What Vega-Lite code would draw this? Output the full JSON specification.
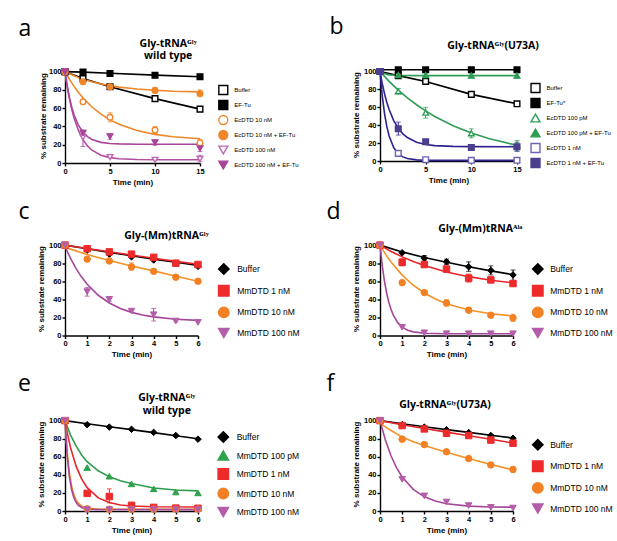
{
"$schema": "https://vega.github.io/schema/vega-lite/v6.json",
"padding": {"left": 17, "top": 15, "right": 2, "bottom": 2},
"columns": 2,
"align": "each",
"spacing": {"row": 13.5, "column": 26},
"resolve": {"scale": {"color": "independent", "shape": "independent", "stroke": "independent", "fill": "independent"}, "legend": {"color": "independent", "shape": "independent", "stroke": "independent", "fill": "independent"}},
"datasets": {
"pts": [
{"p":"a","s":"Buffer","t":0,"y":100},{"p":"a","s":"Buffer","t":2,"y":92.5},{"p":"a","s":"Buffer","t":5,"y":83.5},{"p":"a","s":"Buffer","t":10,"y":70.5},{"p":"a","s":"Buffer","t":15,"y":59},
{"p":"a","s":"EF-Tu","t":0,"y":100},{"p":"a","s":"EF-Tu","t":2,"y":99.5},{"p":"a","s":"EF-Tu","t":5,"y":98},{"p":"a","s":"EF-Tu","t":10,"y":96},{"p":"a","s":"EF-Tu","t":15,"y":94.5},
{"p":"a","s":"EcDTD 10 nM","t":0,"y":100},{"p":"a","s":"EcDTD 10 nM","t":2,"y":67},{"p":"a","s":"EcDTD 10 nM","t":5,"y":50},{"p":"a","s":"EcDTD 10 nM","t":10,"y":36},{"p":"a","s":"EcDTD 10 nM","t":15,"y":22},
{"p":"a","s":"EcDTD 10 nM + EF-Tu","t":0,"y":100},{"p":"a","s":"EcDTD 10 nM + EF-Tu","t":2,"y":89},{"p":"a","s":"EcDTD 10 nM + EF-Tu","t":5,"y":83.5},{"p":"a","s":"EcDTD 10 nM + EF-Tu","t":10,"y":79.5},{"p":"a","s":"EcDTD 10 nM + EF-Tu","t":15,"y":76},
{"p":"a","s":"EcDTD 100 nM","t":0,"y":100},{"p":"a","s":"EcDTD 100 nM","t":2,"y":28},{"p":"a","s":"EcDTD 100 nM","t":5,"y":6.5},{"p":"a","s":"EcDTD 100 nM","t":10,"y":3.5},{"p":"a","s":"EcDTD 100 nM","t":15,"y":4.5},
{"p":"a","s":"EcDTD 100 nM + EF-Tu","t":0,"y":100},{"p":"a","s":"EcDTD 100 nM + EF-Tu","t":2,"y":33},{"p":"a","s":"EcDTD 100 nM + EF-Tu","t":5,"y":29},{"p":"a","s":"EcDTD 100 nM + EF-Tu","t":10,"y":22.5},{"p":"a","s":"EcDTD 100 nM + EF-Tu","t":15,"y":16},
{"p":"b","s":"Buffer","t":0,"y":100},{"p":"b","s":"Buffer","t":2,"y":95.5},{"p":"b","s":"Buffer","t":5,"y":89},{"p":"b","s":"Buffer","t":10,"y":74.5},{"p":"b","s":"Buffer","t":15,"y":64},
{"p":"b","s":"EF-Tu*","t":0,"y":100},{"p":"b","s":"EF-Tu*","t":2,"y":102},{"p":"b","s":"EF-Tu*","t":5,"y":102},{"p":"b","s":"EF-Tu*","t":10,"y":102},{"p":"b","s":"EF-Tu*","t":15,"y":102},
{"p":"b","s":"EcDTD 100 pM","t":0,"y":100},{"p":"b","s":"EcDTD 100 pM","t":2,"y":78},{"p":"b","s":"EcDTD 100 pM","t":5,"y":54},{"p":"b","s":"EcDTD 100 pM","t":10,"y":31},{"p":"b","s":"EcDTD 100 pM","t":15,"y":17.5},
{"p":"b","s":"EcDTD 100 pM + EF-Tu","t":0,"y":100},{"p":"b","s":"EcDTD 100 pM + EF-Tu","t":2,"y":96},{"p":"b","s":"EcDTD 100 pM + EF-Tu","t":5,"y":96},{"p":"b","s":"EcDTD 100 pM + EF-Tu","t":10,"y":95.5},{"p":"b","s":"EcDTD 100 pM + EF-Tu","t":15,"y":95.5},
{"p":"b","s":"EcDTD 1 nM","t":0,"y":100},{"p":"b","s":"EcDTD 1 nM","t":2,"y":8.5},{"p":"b","s":"EcDTD 1 nM","t":5,"y":1.5},{"p":"b","s":"EcDTD 1 nM","t":10,"y":0.8},{"p":"b","s":"EcDTD 1 nM","t":15,"y":0.8},
{"p":"b","s":"EcDTD 1 nM + EF-Tu","t":0,"y":100},{"p":"b","s":"EcDTD 1 nM + EF-Tu","t":2,"y":36},{"p":"b","s":"EcDTD 1 nM + EF-Tu","t":5,"y":21.5},{"p":"b","s":"EcDTD 1 nM + EF-Tu","t":10,"y":15},{"p":"b","s":"EcDTD 1 nM + EF-Tu","t":15,"y":16},
{"p":"c","s":"Buffer","t":0,"y":100},{"p":"c","s":"Buffer","t":1,"y":94.5},{"p":"c","s":"Buffer","t":2,"y":90},{"p":"c","s":"Buffer","t":3,"y":87},{"p":"c","s":"Buffer","t":4,"y":83.5},{"p":"c","s":"Buffer","t":5,"y":80},{"p":"c","s":"Buffer","t":6,"y":76.5},
{"p":"c","s":"MmDTD 1 nM","t":0,"y":100},{"p":"c","s":"MmDTD 1 nM","t":1,"y":96},{"p":"c","s":"MmDTD 1 nM","t":2,"y":92.5},{"p":"c","s":"MmDTD 1 nM","t":3,"y":90},{"p":"c","s":"MmDTD 1 nM","t":4,"y":86.5},{"p":"c","s":"MmDTD 1 nM","t":5,"y":80},{"p":"c","s":"MmDTD 1 nM","t":6,"y":78.5},
{"p":"c","s":"MmDTD 10 nM","t":0,"y":100},{"p":"c","s":"MmDTD 10 nM","t":1,"y":84.5},{"p":"c","s":"MmDTD 10 nM","t":2,"y":82.5},{"p":"c","s":"MmDTD 10 nM","t":3,"y":76},{"p":"c","s":"MmDTD 10 nM","t":4,"y":71},{"p":"c","s":"MmDTD 10 nM","t":5,"y":64.5},{"p":"c","s":"MmDTD 10 nM","t":6,"y":60},
{"p":"c","s":"MmDTD 100 nM","t":0,"y":100},{"p":"c","s":"MmDTD 100 nM","t":1,"y":48.5},{"p":"c","s":"MmDTD 100 nM","t":2,"y":40},{"p":"c","s":"MmDTD 100 nM","t":3,"y":27},{"p":"c","s":"MmDTD 100 nM","t":4,"y":23},{"p":"c","s":"MmDTD 100 nM","t":5,"y":16},{"p":"c","s":"MmDTD 100 nM","t":6,"y":14.5},
{"p":"d","s":"Buffer","t":0,"y":100},{"p":"d","s":"Buffer","t":1,"y":91.5},{"p":"d","s":"Buffer","t":2,"y":85.5},{"p":"d","s":"Buffer","t":3,"y":81.5},{"p":"d","s":"Buffer","t":4,"y":76},{"p":"d","s":"Buffer","t":5,"y":72},{"p":"d","s":"Buffer","t":6,"y":67},
{"p":"d","s":"MmDTD 1 nM","t":0,"y":100},{"p":"d","s":"MmDTD 1 nM","t":1,"y":81},{"p":"d","s":"MmDTD 1 nM","t":2,"y":78.5},{"p":"d","s":"MmDTD 1 nM","t":3,"y":73.5},{"p":"d","s":"MmDTD 1 nM","t":4,"y":63.5},{"p":"d","s":"MmDTD 1 nM","t":5,"y":61.5},{"p":"d","s":"MmDTD 1 nM","t":6,"y":57.5},
{"p":"d","s":"MmDTD 10 nM","t":0,"y":100},{"p":"d","s":"MmDTD 10 nM","t":1,"y":58.5},{"p":"d","s":"MmDTD 10 nM","t":2,"y":47.5},{"p":"d","s":"MmDTD 10 nM","t":3,"y":36},{"p":"d","s":"MmDTD 10 nM","t":4,"y":28},{"p":"d","s":"MmDTD 10 nM","t":5,"y":22.5},{"p":"d","s":"MmDTD 10 nM","t":6,"y":19.5},
{"p":"d","s":"MmDTD 100 nM","t":0,"y":100},{"p":"d","s":"MmDTD 100 nM","t":1,"y":9},{"p":"d","s":"MmDTD 100 nM","t":2,"y":3},{"p":"d","s":"MmDTD 100 nM","t":3,"y":2},{"p":"d","s":"MmDTD 100 nM","t":4,"y":2},{"p":"d","s":"MmDTD 100 nM","t":5,"y":2},{"p":"d","s":"MmDTD 100 nM","t":6,"y":2},
{"p":"e","s":"Buffer","t":0,"y":100},{"p":"e","s":"Buffer","t":1,"y":95.5},{"p":"e","s":"Buffer","t":2,"y":92.8},{"p":"e","s":"Buffer","t":3,"y":90.4},{"p":"e","s":"Buffer","t":4,"y":87},{"p":"e","s":"Buffer","t":5,"y":83.5},{"p":"e","s":"Buffer","t":6,"y":79.5},
{"p":"e","s":"MmDTD 100 pM","t":0,"y":100},{"p":"e","s":"MmDTD 100 pM","t":1,"y":48},{"p":"e","s":"MmDTD 100 pM","t":2,"y":38.5},{"p":"e","s":"MmDTD 100 pM","t":3,"y":30},{"p":"e","s":"MmDTD 100 pM","t":4,"y":24.5},{"p":"e","s":"MmDTD 100 pM","t":5,"y":21},{"p":"e","s":"MmDTD 100 pM","t":6,"y":20},
{"p":"e","s":"MmDTD 1 nM","t":0,"y":100},{"p":"e","s":"MmDTD 1 nM","t":1,"y":19.5},{"p":"e","s":"MmDTD 1 nM","t":2,"y":16},{"p":"e","s":"MmDTD 1 nM","t":3,"y":6.3},{"p":"e","s":"MmDTD 1 nM","t":4,"y":4},{"p":"e","s":"MmDTD 1 nM","t":5,"y":3.2},{"p":"e","s":"MmDTD 1 nM","t":6,"y":3},
{"p":"e","s":"MmDTD 10 nM","t":0,"y":100},{"p":"e","s":"MmDTD 10 nM","t":1,"y":2.5},{"p":"e","s":"MmDTD 10 nM","t":2,"y":2},{"p":"e","s":"MmDTD 10 nM","t":3,"y":2},{"p":"e","s":"MmDTD 10 nM","t":4,"y":2},{"p":"e","s":"MmDTD 10 nM","t":5,"y":2},{"p":"e","s":"MmDTD 10 nM","t":6,"y":2},
{"p":"e","s":"MmDTD 100 nM","t":0,"y":100},{"p":"e","s":"MmDTD 100 nM","t":1,"y":1.5},{"p":"e","s":"MmDTD 100 nM","t":2,"y":1.5},{"p":"e","s":"MmDTD 100 nM","t":3,"y":1.5},{"p":"e","s":"MmDTD 100 nM","t":4,"y":1.5},{"p":"e","s":"MmDTD 100 nM","t":5,"y":1.5},{"p":"e","s":"MmDTD 100 nM","t":6,"y":1.5},
{"p":"f","s":"Buffer","t":0,"y":100},{"p":"f","s":"Buffer","t":1,"y":95.5},{"p":"f","s":"Buffer","t":2,"y":92.8},{"p":"f","s":"Buffer","t":3,"y":89.8},{"p":"f","s":"Buffer","t":4,"y":86.8},{"p":"f","s":"Buffer","t":5,"y":83.5},{"p":"f","s":"Buffer","t":6,"y":80.5},
{"p":"f","s":"MmDTD 1 nM","t":0,"y":100},{"p":"f","s":"MmDTD 1 nM","t":1,"y":94.5},{"p":"f","s":"MmDTD 1 nM","t":2,"y":90.8},{"p":"f","s":"MmDTD 1 nM","t":3,"y":86},{"p":"f","s":"MmDTD 1 nM","t":4,"y":83.5},{"p":"f","s":"MmDTD 1 nM","t":5,"y":78.5},{"p":"f","s":"MmDTD 1 nM","t":6,"y":75},
{"p":"f","s":"MmDTD 10 nM","t":0,"y":100},{"p":"f","s":"MmDTD 10 nM","t":1,"y":79.5},{"p":"f","s":"MmDTD 10 nM","t":2,"y":73.5},{"p":"f","s":"MmDTD 10 nM","t":3,"y":65.5},{"p":"f","s":"MmDTD 10 nM","t":4,"y":58},{"p":"f","s":"MmDTD 10 nM","t":5,"y":51},{"p":"f","s":"MmDTD 10 nM","t":6,"y":46},
{"p":"f","s":"MmDTD 100 nM","t":0,"y":100},{"p":"f","s":"MmDTD 100 nM","t":1,"y":35},{"p":"f","s":"MmDTD 100 nM","t":2,"y":16.7},{"p":"f","s":"MmDTD 100 nM","t":3,"y":10},{"p":"f","s":"MmDTD 100 nM","t":4,"y":6},{"p":"f","s":"MmDTD 100 nM","t":5,"y":4},{"p":"f","s":"MmDTD 100 nM","t":6,"y":3.3}
],
"err": [
{"p":"a","s":"Buffer","t":10,"lo":68.5,"hi":72.5},
{"p":"a","s":"EcDTD 10 nM","t":5,"lo":45,"hi":55},{"p":"a","s":"EcDTD 10 nM","t":10,"lo":32,"hi":40},{"p":"a","s":"EcDTD 10 nM","t":15,"lo":19,"hi":26},
{"p":"a","s":"EcDTD 10 nM + EF-Tu","t":5,"lo":82,"hi":85},{"p":"a","s":"EcDTD 10 nM + EF-Tu","t":10,"lo":77,"hi":82.5},{"p":"a","s":"EcDTD 10 nM + EF-Tu","t":15,"lo":72.5,"hi":80},
{"p":"a","s":"EcDTD 100 nM + EF-Tu","t":2,"lo":18,"hi":36},{"p":"a","s":"EcDTD 100 nM + EF-Tu","t":5,"lo":26,"hi":32},{"p":"a","s":"EcDTD 100 nM + EF-Tu","t":10,"lo":19.5,"hi":25.5},{"p":"a","s":"EcDTD 100 nM + EF-Tu","t":15,"lo":12.5,"hi":19},
{"p":"a","s":"EcDTD 100 nM","t":15,"lo":1.5,"hi":8.5},
{"p":"b","s":"Buffer","t":10,"lo":72,"hi":77},
{"p":"b","s":"EcDTD 100 pM","t":2,"lo":75,"hi":81},{"p":"b","s":"EcDTD 100 pM","t":5,"lo":48,"hi":60},{"p":"b","s":"EcDTD 100 pM","t":10,"lo":26,"hi":36},{"p":"b","s":"EcDTD 100 pM","t":15,"lo":11,"hi":23},
{"p":"b","s":"EcDTD 100 pM + EF-Tu","t":5,"lo":93.5,"hi":98.5},{"p":"b","s":"EcDTD 100 pM + EF-Tu","t":10,"lo":93,"hi":98},{"p":"b","s":"EcDTD 100 pM + EF-Tu","t":15,"lo":92.5,"hi":98.5},
{"p":"b","s":"EcDTD 1 nM + EF-Tu","t":2,"lo":29,"hi":43.5},{"p":"b","s":"EcDTD 1 nM + EF-Tu","t":5,"lo":19,"hi":24},{"p":"b","s":"EcDTD 1 nM + EF-Tu","t":10,"lo":12,"hi":18},{"p":"b","s":"EcDTD 1 nM + EF-Tu","t":15,"lo":11,"hi":21},
{"p":"c","s":"MmDTD 100 nM","t":1,"lo":43.5,"hi":53},{"p":"c","s":"MmDTD 100 nM","t":2,"lo":38,"hi":42},{"p":"c","s":"MmDTD 100 nM","t":4,"lo":16,"hi":30},{"p":"c","s":"MmDTD 100 nM","t":5,"lo":15,"hi":17.5},
{"p":"c","s":"MmDTD 10 nM","t":3,"lo":72,"hi":80.5},{"p":"c","s":"MmDTD 1 nM","t":4,"lo":84.5,"hi":88.5},
{"p":"d","s":"Buffer","t":2,"lo":82.5,"hi":88.5},{"p":"d","s":"Buffer","t":3,"lo":78.5,"hi":84.5},{"p":"d","s":"Buffer","t":4,"lo":71,"hi":81.5},{"p":"d","s":"Buffer","t":5,"lo":67,"hi":77},{"p":"d","s":"Buffer","t":6,"lo":61,"hi":72.5},
{"p":"d","s":"MmDTD 1 nM","t":1,"lo":77,"hi":85},{"p":"d","s":"MmDTD 1 nM","t":3,"lo":70.5,"hi":76.5},{"p":"d","s":"MmDTD 1 nM","t":4,"lo":59,"hi":68},{"p":"d","s":"MmDTD 1 nM","t":5,"lo":59.5,"hi":63.5},{"p":"d","s":"MmDTD 1 nM","t":6,"lo":54.5,"hi":60.5},
{"p":"d","s":"MmDTD 10 nM","t":3,"lo":32.5,"hi":39.5},{"p":"d","s":"MmDTD 10 nM","t":4,"lo":25.5,"hi":30.5},{"p":"d","s":"MmDTD 10 nM","t":5,"lo":20.5,"hi":24.5},{"p":"d","s":"MmDTD 10 nM","t":6,"lo":15.5,"hi":23.5},
{"p":"e","s":"MmDTD 1 nM","t":2,"lo":9,"hi":24.5},{"p":"e","s":"MmDTD 100 pM","t":5,"lo":19.5,"hi":22.5},
{"p":"f","s":"MmDTD 10 nM","t":1,"lo":76.5,"hi":82.5},{"p":"f","s":"MmDTD 10 nM","t":4,"lo":56,"hi":60},{"p":"f","s":"MmDTD 10 nM","t":6,"lo":43,"hi":49}
],
"curves": [
{"p":"a","s":"Buffer","t":0,"y":100},{"p":"a","s":"Buffer","t":2,"y":92.5},{"p":"a","s":"Buffer","t":5,"y":83.5},{"p":"a","s":"Buffer","t":10,"y":70.5},{"p":"a","s":"Buffer","t":15,"y":59},
{"p":"a","s":"EF-Tu","t":0,"y":100},{"p":"a","s":"EF-Tu","t":2,"y":99.5},{"p":"a","s":"EF-Tu","t":5,"y":98.2},{"p":"a","s":"EF-Tu","t":10,"y":96.2},{"p":"a","s":"EF-Tu","t":15,"y":94.5},
{"p":"a","s":"EcDTD 10 nM","t":0,"y":100},{"p":"a","s":"EcDTD 10 nM","t":0.5,"y":91.5},{"p":"a","s":"EcDTD 10 nM","t":1,"y":83.9},{"p":"a","s":"EcDTD 10 nM","t":1.5,"y":77.2},{"p":"a","s":"EcDTD 10 nM","t":2,"y":71.2},{"p":"a","s":"EcDTD 10 nM","t":3,"y":61.3},{"p":"a","s":"EcDTD 10 nM","t":4,"y":53.4},{"p":"a","s":"EcDTD 10 nM","t":5,"y":47.2},{"p":"a","s":"EcDTD 10 nM","t":6,"y":42.4},{"p":"a","s":"EcDTD 10 nM","t":8,"y":35.6},{"p":"a","s":"EcDTD 10 nM","t":10,"y":31.3},{"p":"a","s":"EcDTD 10 nM","t":12,"y":28.7},{"p":"a","s":"EcDTD 10 nM","t":15,"y":26.6},
{"p":"a","s":"EcDTD 10 nM + EF-Tu","t":0,"y":100},{"p":"a","s":"EcDTD 10 nM + EF-Tu","t":0.5,"y":97.6},{"p":"a","s":"EcDTD 10 nM + EF-Tu","t":1,"y":95.5},{"p":"a","s":"EcDTD 10 nM + EF-Tu","t":1.5,"y":93.5},{"p":"a","s":"EcDTD 10 nM + EF-Tu","t":2,"y":91.8},{"p":"a","s":"EcDTD 10 nM + EF-Tu","t":3,"y":88.9},{"p":"a","s":"EcDTD 10 nM + EF-Tu","t":4,"y":86.5},{"p":"a","s":"EcDTD 10 nM + EF-Tu","t":5,"y":84.7},{"p":"a","s":"EcDTD 10 nM + EF-Tu","t":6,"y":83.1},{"p":"a","s":"EcDTD 10 nM + EF-Tu","t":8,"y":81},{"p":"a","s":"EcDTD 10 nM + EF-Tu","t":10,"y":79.6},{"p":"a","s":"EcDTD 10 nM + EF-Tu","t":12,"y":78.6},{"p":"a","s":"EcDTD 10 nM + EF-Tu","t":15,"y":77.9},
{"p":"a","s":"EcDTD 100 nM","t":0,"y":100},{"p":"a","s":"EcDTD 100 nM","t":0.25,"y":83.7},{"p":"a","s":"EcDTD 100 nM","t":0.5,"y":70.2},{"p":"a","s":"EcDTD 100 nM","t":0.75,"y":58.9},{"p":"a","s":"EcDTD 100 nM","t":1,"y":49.5},{"p":"a","s":"EcDTD 100 nM","t":1.5,"y":35.3},{"p":"a","s":"EcDTD 100 nM","t":2,"y":25.5},{"p":"a","s":"EcDTD 100 nM","t":2.5,"y":18.7},{"p":"a","s":"EcDTD 100 nM","t":3,"y":14},{"p":"a","s":"EcDTD 100 nM","t":4,"y":8.5},{"p":"a","s":"EcDTD 100 nM","t":5,"y":5.9},{"p":"a","s":"EcDTD 100 nM","t":6,"y":4.6},{"p":"a","s":"EcDTD 100 nM","t":8,"y":3.8},{"p":"a","s":"EcDTD 100 nM","t":10,"y":3.6},{"p":"a","s":"EcDTD 100 nM","t":15,"y":3.5},
{"p":"a","s":"EcDTD 100 nM + EF-Tu","t":0,"y":100},{"p":"a","s":"EcDTD 100 nM + EF-Tu","t":0.25,"y":84},{"p":"a","s":"EcDTD 100 nM + EF-Tu","t":0.5,"y":71.2},{"p":"a","s":"EcDTD 100 nM + EF-Tu","t":0.75,"y":61},{"p":"a","s":"EcDTD 100 nM + EF-Tu","t":1,"y":52.8},{"p":"a","s":"EcDTD 100 nM + EF-Tu","t":1.5,"y":41.1},{"p":"a","s":"EcDTD 100 nM + EF-Tu","t":2,"y":33.6},{"p":"a","s":"EcDTD 100 nM + EF-Tu","t":2.5,"y":28.9},{"p":"a","s":"EcDTD 100 nM + EF-Tu","t":3,"y":25.8},{"p":"a","s":"EcDTD 100 nM + EF-Tu","t":4,"y":22.6},{"p":"a","s":"EcDTD 100 nM + EF-Tu","t":5,"y":21.4},{"p":"a","s":"EcDTD 100 nM + EF-Tu","t":6,"y":20.9},{"p":"a","s":"EcDTD 100 nM + EF-Tu","t":8,"y":20.6},{"p":"a","s":"EcDTD 100 nM + EF-Tu","t":10,"y":20.5},{"p":"a","s":"EcDTD 100 nM + EF-Tu","t":15,"y":20.5},
{"p":"b","s":"Buffer","t":0,"y":100},{"p":"b","s":"Buffer","t":2,"y":95.5},{"p":"b","s":"Buffer","t":5,"y":89},{"p":"b","s":"Buffer","t":10,"y":74.5},{"p":"b","s":"Buffer","t":15,"y":64},
{"p":"b","s":"EF-Tu*","t":0,"y":102},{"p":"b","s":"EF-Tu*","t":5,"y":102},{"p":"b","s":"EF-Tu*","t":10,"y":102},{"p":"b","s":"EF-Tu*","t":15,"y":102},
{"p":"b","s":"EcDTD 100 pM","t":0,"y":100},{"p":"b","s":"EcDTD 100 pM","t":1,"y":89},{"p":"b","s":"EcDTD 100 pM","t":2,"y":79.3},{"p":"b","s":"EcDTD 100 pM","t":3,"y":70.6},{"p":"b","s":"EcDTD 100 pM","t":4,"y":62.9},{"p":"b","s":"EcDTD 100 pM","t":5,"y":56},{"p":"b","s":"EcDTD 100 pM","t":6,"y":49.8},{"p":"b","s":"EcDTD 100 pM","t":8,"y":39.5},{"p":"b","s":"EcDTD 100 pM","t":10,"y":31.3},{"p":"b","s":"EcDTD 100 pM","t":12,"y":24.8},{"p":"b","s":"EcDTD 100 pM","t":15,"y":17.5},
{"p":"b","s":"EcDTD 100 pM + EF-Tu","t":0,"y":100},{"p":"b","s":"EcDTD 100 pM + EF-Tu","t":0.5,"y":97.5},{"p":"b","s":"EcDTD 100 pM + EF-Tu","t":1,"y":96.3},{"p":"b","s":"EcDTD 100 pM + EF-Tu","t":2,"y":95.8},{"p":"b","s":"EcDTD 100 pM + EF-Tu","t":5,"y":95.5},{"p":"b","s":"EcDTD 100 pM + EF-Tu","t":10,"y":95.5},{"p":"b","s":"EcDTD 100 pM + EF-Tu","t":15,"y":95.5},
{"p":"b","s":"EcDTD 1 nM","t":0,"y":100},{"p":"b","s":"EcDTD 1 nM","t":0.25,"y":72.6},{"p":"b","s":"EcDTD 1 nM","t":0.5,"y":52.8},{"p":"b","s":"EcDTD 1 nM","t":0.75,"y":38.4},{"p":"b","s":"EcDTD 1 nM","t":1,"y":28},{"p":"b","s":"EcDTD 1 nM","t":1.5,"y":15},{"p":"b","s":"EcDTD 1 nM","t":2,"y":8.2},{"p":"b","s":"EcDTD 1 nM","t":2.5,"y":4.6},{"p":"b","s":"EcDTD 1 nM","t":3,"y":2.8},{"p":"b","s":"EcDTD 1 nM","t":4,"y":1.3},{"p":"b","s":"EcDTD 1 nM","t":5,"y":0.9},{"p":"b","s":"EcDTD 1 nM","t":6,"y":0.75},{"p":"b","s":"EcDTD 1 nM","t":10,"y":0.7},{"p":"b","s":"EcDTD 1 nM","t":15,"y":0.7},
{"p":"b","s":"EcDTD 1 nM + EF-Tu","t":0,"y":100},{"p":"b","s":"EcDTD 1 nM + EF-Tu","t":0.25,"y":86.4},{"p":"b","s":"EcDTD 1 nM + EF-Tu","t":0.5,"y":75},{"p":"b","s":"EcDTD 1 nM + EF-Tu","t":0.75,"y":65.5},{"p":"b","s":"EcDTD 1 nM + EF-Tu","t":1,"y":57.5},{"p":"b","s":"EcDTD 1 nM + EF-Tu","t":1.5,"y":45.2},{"p":"b","s":"EcDTD 1 nM + EF-Tu","t":2,"y":36.5},{"p":"b","s":"EcDTD 1 nM + EF-Tu","t":2.5,"y":30.4},{"p":"b","s":"EcDTD 1 nM + EF-Tu","t":3,"y":26.2},{"p":"b","s":"EcDTD 1 nM + EF-Tu","t":4,"y":21},{"p":"b","s":"EcDTD 1 nM + EF-Tu","t":5,"y":18.5},{"p":"b","s":"EcDTD 1 nM + EF-Tu","t":6,"y":17.2},{"p":"b","s":"EcDTD 1 nM + EF-Tu","t":8,"y":16.3},{"p":"b","s":"EcDTD 1 nM + EF-Tu","t":10,"y":16.1},{"p":"b","s":"EcDTD 1 nM + EF-Tu","t":15,"y":16},
{"p":"c","s":"Buffer","t":0,"y":100},{"p":"c","s":"Buffer","t":1,"y":96},{"p":"c","s":"Buffer","t":2,"y":92},{"p":"c","s":"Buffer","t":3,"y":88.3},{"p":"c","s":"Buffer","t":4,"y":84.5},{"p":"c","s":"Buffer","t":5,"y":81},{"p":"c","s":"Buffer","t":6,"y":77.5},
{"p":"c","s":"MmDTD 1 nM","t":0,"y":100},{"p":"c","s":"MmDTD 1 nM","t":1,"y":96.3},{"p":"c","s":"MmDTD 1 nM","t":2,"y":92.6},{"p":"c","s":"MmDTD 1 nM","t":3,"y":89},{"p":"c","s":"MmDTD 1 nM","t":4,"y":85.5},{"p":"c","s":"MmDTD 1 nM","t":5,"y":82},{"p":"c","s":"MmDTD 1 nM","t":6,"y":78.8},
{"p":"c","s":"MmDTD 10 nM","t":0,"y":97.5},{"p":"c","s":"MmDTD 10 nM","t":1,"y":89.5},{"p":"c","s":"MmDTD 10 nM","t":2,"y":83},{"p":"c","s":"MmDTD 10 nM","t":3,"y":77},{"p":"c","s":"MmDTD 10 nM","t":4,"y":71.5},{"p":"c","s":"MmDTD 10 nM","t":5,"y":65.5},{"p":"c","s":"MmDTD 10 nM","t":6,"y":60},
{"p":"c","s":"MmDTD 100 nM","t":0,"y":98.5},{"p":"c","s":"MmDTD 100 nM","t":0.25,"y":85.2},{"p":"c","s":"MmDTD 100 nM","t":0.5,"y":74},{"p":"c","s":"MmDTD 100 nM","t":0.75,"y":64.6},{"p":"c","s":"MmDTD 100 nM","t":1,"y":56.7},{"p":"c","s":"MmDTD 100 nM","t":1.5,"y":44.5},{"p":"c","s":"MmDTD 100 nM","t":2,"y":36},{"p":"c","s":"MmDTD 100 nM","t":2.5,"y":29.9},{"p":"c","s":"MmDTD 100 nM","t":3,"y":25.6},{"p":"c","s":"MmDTD 100 nM","t":3.5,"y":22.7},{"p":"c","s":"MmDTD 100 nM","t":4,"y":20.6},{"p":"c","s":"MmDTD 100 nM","t":5,"y":18},{"p":"c","s":"MmDTD 100 nM","t":6,"y":16.7},
{"p":"d","s":"Buffer","t":0,"y":100},{"p":"d","s":"Buffer","t":1,"y":92.5},{"p":"d","s":"Buffer","t":2,"y":86.3},{"p":"d","s":"Buffer","t":3,"y":81},{"p":"d","s":"Buffer","t":4,"y":76},{"p":"d","s":"Buffer","t":5,"y":71.5},{"p":"d","s":"Buffer","t":6,"y":67.3},
{"p":"d","s":"MmDTD 1 nM","t":0,"y":100},{"p":"d","s":"MmDTD 1 nM","t":0.5,"y":93},{"p":"d","s":"MmDTD 1 nM","t":1,"y":87},{"p":"d","s":"MmDTD 1 nM","t":1.5,"y":81.9},{"p":"d","s":"MmDTD 1 nM","t":2,"y":77.4},{"p":"d","s":"MmDTD 1 nM","t":3,"y":70.3},{"p":"d","s":"MmDTD 1 nM","t":4,"y":65.1},{"p":"d","s":"MmDTD 1 nM","t":5,"y":61.2},{"p":"d","s":"MmDTD 1 nM","t":6,"y":58.3},
{"p":"d","s":"MmDTD 10 nM","t":0,"y":100},{"p":"d","s":"MmDTD 10 nM","t":0.25,"y":90},{"p":"d","s":"MmDTD 10 nM","t":0.5,"y":81.2},{"p":"d","s":"MmDTD 10 nM","t":1,"y":66.8},{"p":"d","s":"MmDTD 10 nM","t":1.5,"y":55.6},{"p":"d","s":"MmDTD 10 nM","t":2,"y":47},{"p":"d","s":"MmDTD 10 nM","t":2.5,"y":40.4},{"p":"d","s":"MmDTD 10 nM","t":3,"y":35.2},{"p":"d","s":"MmDTD 10 nM","t":4,"y":28.2},{"p":"d","s":"MmDTD 10 nM","t":5,"y":24.1},{"p":"d","s":"MmDTD 10 nM","t":6,"y":21.6},
{"p":"d","s":"MmDTD 100 nM","t":0,"y":100},{"p":"d","s":"MmDTD 100 nM","t":0.1,"y":77.6},{"p":"d","s":"MmDTD 100 nM","t":0.2,"y":60.3},{"p":"d","s":"MmDTD 100 nM","t":0.3,"y":46.9},{"p":"d","s":"MmDTD 100 nM","t":0.4,"y":36.6},{"p":"d","s":"MmDTD 100 nM","t":0.5,"y":28.7},{"p":"d","s":"MmDTD 100 nM","t":0.6,"y":22.6},{"p":"d","s":"MmDTD 100 nM","t":0.8,"y":14.2},{"p":"d","s":"MmDTD 100 nM","t":1,"y":9.3},{"p":"d","s":"MmDTD 100 nM","t":1.25,"y":5.8},{"p":"d","s":"MmDTD 100 nM","t":1.5,"y":4},{"p":"d","s":"MmDTD 100 nM","t":2,"y":2.5},{"p":"d","s":"MmDTD 100 nM","t":3,"y":2},{"p":"d","s":"MmDTD 100 nM","t":6,"y":2},
{"p":"e","s":"Buffer","t":0,"y":100},{"p":"e","s":"Buffer","t":1,"y":96.6},{"p":"e","s":"Buffer","t":2,"y":93.2},{"p":"e","s":"Buffer","t":3,"y":90},{"p":"e","s":"Buffer","t":4,"y":86.7},{"p":"e","s":"Buffer","t":5,"y":83.3},{"p":"e","s":"Buffer","t":6,"y":80},
{"p":"e","s":"MmDTD 100 pM","t":0,"y":100},{"p":"e","s":"MmDTD 100 pM","t":0.25,"y":84},{"p":"e","s":"MmDTD 100 pM","t":0.5,"y":72},{"p":"e","s":"MmDTD 100 pM","t":0.75,"y":62},{"p":"e","s":"MmDTD 100 pM","t":1,"y":54.5},{"p":"e","s":"MmDTD 100 pM","t":1.5,"y":44.5},{"p":"e","s":"MmDTD 100 pM","t":2,"y":37.8},{"p":"e","s":"MmDTD 100 pM","t":2.5,"y":33.5},{"p":"e","s":"MmDTD 100 pM","t":3,"y":30.4},{"p":"e","s":"MmDTD 100 pM","t":4,"y":25.5},{"p":"e","s":"MmDTD 100 pM","t":5,"y":23.3},{"p":"e","s":"MmDTD 100 pM","t":6,"y":22.3},
{"p":"e","s":"MmDTD 1 nM","t":0,"y":100},{"p":"e","s":"MmDTD 1 nM","t":0.1,"y":86.7},{"p":"e","s":"MmDTD 1 nM","t":0.25,"y":70.1},{"p":"e","s":"MmDTD 1 nM","t":0.5,"y":49.6},{"p":"e","s":"MmDTD 1 nM","t":0.75,"y":35.5},{"p":"e","s":"MmDTD 1 nM","t":1,"y":25.8},{"p":"e","s":"MmDTD 1 nM","t":1.5,"y":14.5},{"p":"e","s":"MmDTD 1 nM","t":2,"y":9.3},{"p":"e","s":"MmDTD 1 nM","t":2.5,"y":6.7},{"p":"e","s":"MmDTD 1 nM","t":3,"y":5.6},{"p":"e","s":"MmDTD 1 nM","t":4,"y":4.7},{"p":"e","s":"MmDTD 1 nM","t":6,"y":4.5},
{"p":"e","s":"MmDTD 10 nM","t":0,"y":100},{"p":"e","s":"MmDTD 10 nM","t":0.1,"y":64.5},{"p":"e","s":"MmDTD 10 nM","t":0.2,"y":41.9},{"p":"e","s":"MmDTD 10 nM","t":0.3,"y":27.4},{"p":"e","s":"MmDTD 10 nM","t":0.4,"y":18.2},{"p":"e","s":"MmDTD 10 nM","t":0.5,"y":12.3},{"p":"e","s":"MmDTD 10 nM","t":0.6,"y":8.6},{"p":"e","s":"MmDTD 10 nM","t":0.8,"y":4.7},{"p":"e","s":"MmDTD 10 nM","t":1,"y":3.1},{"p":"e","s":"MmDTD 10 nM","t":1.5,"y":2.1},{"p":"e","s":"MmDTD 10 nM","t":6,"y":2},
{"p":"e","s":"MmDTD 100 nM","t":0,"y":100},{"p":"e","s":"MmDTD 100 nM","t":0.1,"y":61.3},{"p":"e","s":"MmDTD 100 nM","t":0.2,"y":37.7},{"p":"e","s":"MmDTD 100 nM","t":0.3,"y":23.5},{"p":"e","s":"MmDTD 100 nM","t":0.4,"y":14.8},{"p":"e","s":"MmDTD 100 nM","t":0.5,"y":9.6},{"p":"e","s":"MmDTD 100 nM","t":0.6,"y":6.3},{"p":"e","s":"MmDTD 100 nM","t":0.8,"y":3.3},{"p":"e","s":"MmDTD 100 nM","t":1,"y":2.2},{"p":"e","s":"MmDTD 100 nM","t":1.5,"y":1.6},{"p":"e","s":"MmDTD 100 nM","t":6,"y":1.5},
{"p":"f","s":"Buffer","t":0,"y":100},{"p":"f","s":"Buffer","t":1,"y":96.6},{"p":"f","s":"Buffer","t":2,"y":93.3},{"p":"f","s":"Buffer","t":3,"y":90},{"p":"f","s":"Buffer","t":4,"y":87},{"p":"f","s":"Buffer","t":5,"y":83.8},{"p":"f","s":"Buffer","t":6,"y":80.8},
{"p":"f","s":"MmDTD 1 nM","t":0,"y":100},{"p":"f","s":"MmDTD 1 nM","t":1,"y":95.5},{"p":"f","s":"MmDTD 1 nM","t":2,"y":91.3},{"p":"f","s":"MmDTD 1 nM","t":3,"y":87.3},{"p":"f","s":"MmDTD 1 nM","t":4,"y":83.3},{"p":"f","s":"MmDTD 1 nM","t":5,"y":79.3},{"p":"f","s":"MmDTD 1 nM","t":6,"y":75.3},
{"p":"f","s":"MmDTD 10 nM","t":0,"y":97},{"p":"f","s":"MmDTD 10 nM","t":0.5,"y":89},{"p":"f","s":"MmDTD 10 nM","t":1,"y":81.8},{"p":"f","s":"MmDTD 10 nM","t":1.5,"y":76.5},{"p":"f","s":"MmDTD 10 nM","t":2,"y":72.5},{"p":"f","s":"MmDTD 10 nM","t":3,"y":65},{"p":"f","s":"MmDTD 10 nM","t":4,"y":58},{"p":"f","s":"MmDTD 10 nM","t":5,"y":51.5},{"p":"f","s":"MmDTD 10 nM","t":6,"y":45.5},
{"p":"f","s":"MmDTD 100 nM","t":0,"y":100},{"p":"f","s":"MmDTD 100 nM","t":0.25,"y":77.9},{"p":"f","s":"MmDTD 100 nM","t":0.5,"y":60.8},{"p":"f","s":"MmDTD 100 nM","t":0.75,"y":47.7},{"p":"f","s":"MmDTD 100 nM","t":1,"y":37.6},{"p":"f","s":"MmDTD 100 nM","t":1.5,"y":23.9},{"p":"f","s":"MmDTD 100 nM","t":2,"y":15.7},{"p":"f","s":"MmDTD 100 nM","t":2.5,"y":11},{"p":"f","s":"MmDTD 100 nM","t":3,"y":8.1},{"p":"f","s":"MmDTD 100 nM","t":4,"y":5.4},{"p":"f","s":"MmDTD 100 nM","t":5,"y":4.5},{"p":"f","s":"MmDTD 100 nM","t":6,"y":4.2}
]
},
"concat": [
{
"width": 135, "height": 95,
"layer": [
{"data": {"name": "curves"}, "transform": [{"filter": "datum.p=='a'"}],
 "mark": {"type": "line", "strokeWidth": 1.6},
 "encoding": {
  "x": {"field": "t", "type": "quantitative", "scale": {"domain": [0,15], "nice": false, "zero": false}, "axis": {"values": [0,5,10,15], "title": "Time (min)", "titlePadding": 3.5}},
  "y": {"field": "y", "type": "quantitative", "scale": {"domain": [0,104], "nice": false}, "axis": {"values": [0,20,40,60,80,100], "title": "% substrate remaining", "titlePadding": 1}},
  "color": {"field": "s", "type": "nominal", "scale": {"domain": ["EcDTD 100 nM + EF-Tu","EcDTD 100 nM","EcDTD 10 nM + EF-Tu","EcDTD 10 nM","EF-Tu","Buffer"], "range": ["#A8459B","#B24DA3","#F0862A","#F0862A","#000000","#000000"]}, "legend": null}
 }},
{"data": {"name": "err"}, "transform": [{"filter": "datum.p=='a'"}],
 "mark": {"type": "errorbar", "ticks": {"size": 5}, "thickness": 1},
 "encoding": {
  "x": {"field": "t", "type": "quantitative", "axis": null},
  "y": {"field": "lo", "type": "quantitative", "axis": null},
  "y2": {"field": "hi"},
  "color": {"field": "s", "type": "nominal", "legend": null}
 }},
{"data": {"name": "pts"}, "transform": [{"filter": "datum.p=='a'"}],
 "mark": {"type": "point", "size": 32, "opacity": 1, "strokeWidth": 1.4},
 "encoding": {
  "x": {"field": "t", "type": "quantitative", "axis": {"orient": "top", "domain": false, "ticks": false, "labels": false, "title": ["Gly-tRNA\u1d33\u02e1\u02b8", "wild type"], "titleX": 102.7, "titleY": -22, "titleAlign": "center", "titleBaseline": "alphabetic", "titleFont": "Open Sans", "titleFontSize": 10.5, "titleFontWeight": "bold", "titleLineHeight": 12.5}},
  "y": {"field": "y", "type": "quantitative", "axis": {"orient": "left", "domain": false, "ticks": false, "labels": false, "title": "a", "titleAngle": 0, "titleX": -47, "titleY": -32.5, "titleAlign": "left", "titleBaseline": "alphabetic", "titleFont": "Open Sans", "titleFontSize": 23, "titleFontWeight": "normal"}},
  "shape": {"field": "s", "type": "nominal", "scale": {"domain": ["Buffer","EF-Tu","EcDTD 10 nM","EcDTD 10 nM + EF-Tu","EcDTD 100 nM","EcDTD 100 nM + EF-Tu"], "range": ["square","square","circle","circle","triangle-down","triangle-down"]}, "legend": {"title": null, "orient": "none", "legendX": 152.8, "legendY": 16.5, "symbolSize": 80, "labelFontSize": 6, "rowPadding": 0, "labelOffset": 5.5}},
  "stroke": {"field": "s", "type": "nominal", "scale": {"domain": ["Buffer","EF-Tu","EcDTD 10 nM","EcDTD 10 nM + EF-Tu","EcDTD 100 nM","EcDTD 100 nM + EF-Tu"], "range": ["#000000","#000000","#F0862A","#F0862A","#C067B5","#A8459B"]}, "legend": {"title": null, "orient": "none", "legendX": 152.8, "legendY": 16.5, "symbolSize": 80, "labelFontSize": 6, "rowPadding": 0, "labelOffset": 5.5}},
  "fill": {"field": "s", "type": "nominal", "scale": {"domain": ["Buffer","EF-Tu","EcDTD 10 nM","EcDTD 10 nM + EF-Tu","EcDTD 100 nM","EcDTD 100 nM + EF-Tu"], "range": ["#ffffff","#000000","#ffffff","#F0862A","#ffffff","#A8459B"]}, "legend": {"title": null, "orient": "none", "legendX": 152.8, "legendY": 16.5, "symbolSize": 80, "labelFontSize": 6, "rowPadding": 0, "labelOffset": 5.5}}
 }}
],
"resolve": {"axis": {"x": "independent", "y": "independent"}}
},
{
"width": 137, "height": 93,
"layer": [
{"data": {"name": "curves"}, "transform": [{"filter": "datum.p=='b'"}],
 "mark": {"type": "line", "strokeWidth": 1.6},
 "encoding": {
  "x": {"field": "t", "type": "quantitative", "scale": {"domain": [0,15], "nice": false, "zero": false}, "axis": {"values": [0,5,10,15], "title": "Time (min)", "titlePadding": 3.5}},
  "y": {"field": "y", "type": "quantitative", "scale": {"domain": [0,104], "nice": false}, "axis": {"values": [0,20,40,60,80,100], "title": "% substrate remaining", "titlePadding": 3}},
  "color": {"field": "s", "type": "nominal", "scale": {"domain": ["EcDTD 1 nM + EF-Tu","EcDTD 1 nM","EcDTD 100 pM + EF-Tu","EcDTD 100 pM","EF-Tu*","Buffer"], "range": ["#2D2290","#2D2290","#2F9E55","#2F9E55","#000000","#000000"]}, "legend": null}
 }},
{"data": {"name": "err"}, "transform": [{"filter": "datum.p=='b'"}],
 "mark": {"type": "errorbar", "ticks": {"size": 5}, "thickness": 1},
 "encoding": {
  "x": {"field": "t", "type": "quantitative", "axis": null},
  "y": {"field": "lo", "type": "quantitative", "axis": null},
  "y2": {"field": "hi"},
  "color": {"field": "s", "type": "nominal", "legend": null}
 }},
{"data": {"name": "pts"}, "transform": [{"filter": "datum.p=='b'"}],
 "mark": {"type": "point", "size": 32, "opacity": 1, "strokeWidth": 1.4},
 "encoding": {
  "x": {"field": "t", "type": "quantitative", "axis": {"orient": "top", "domain": false, "ticks": false, "labels": false, "title": "Gly-tRNA\u1d33\u02e1\u02b8(U73A)", "titleX": 112.5, "titleY": -19.7, "titleAlign": "center", "titleBaseline": "alphabetic", "titleFont": "Open Sans", "titleFontSize": 10.5, "titleFontWeight": "bold"}},
  "y": {"field": "y", "type": "quantitative", "axis": {"orient": "left", "domain": false, "ticks": false, "labels": false, "title": "b", "titleAngle": 0, "titleX": -51, "titleY": -34.7, "titleAlign": "left", "titleBaseline": "alphabetic", "titleFont": "Open Sans", "titleFontSize": 23, "titleFontWeight": "normal"}},
  "shape": {"field": "s", "type": "nominal", "scale": {"domain": ["Buffer","EF-Tu*","EcDTD 100 pM","EcDTD 100 pM + EF-Tu","EcDTD 1 nM","EcDTD 1 nM + EF-Tu"], "range": ["square","square","triangle-up","triangle-up","square","square"]}, "legend": {"title": null, "orient": "none", "legendX": 150, "legendY": 14.5, "symbolSize": 80, "labelFontSize": 6, "rowPadding": 0, "labelOffset": 5.5}},
  "stroke": {"field": "s", "type": "nominal", "scale": {"domain": ["Buffer","EF-Tu*","EcDTD 100 pM","EcDTD 100 pM + EF-Tu","EcDTD 1 nM","EcDTD 1 nM + EF-Tu"], "range": ["#000000","#000000","#2F9E55","#2F9E55","#6F63B2","#4C3E8E"]}, "legend": {"title": null, "orient": "none", "legendX": 150, "legendY": 14.5, "symbolSize": 80, "labelFontSize": 6, "rowPadding": 0, "labelOffset": 5.5}},
  "fill": {"field": "s", "type": "nominal", "scale": {"domain": ["Buffer","EF-Tu*","EcDTD 100 pM","EcDTD 100 pM + EF-Tu","EcDTD 1 nM","EcDTD 1 nM + EF-Tu"], "range": ["#ffffff","#000000","#ffffff","#2F9E55","#ffffff","#4C3E8E"]}, "legend": {"title": null, "orient": "none", "legendX": 150, "legendY": 14.5, "symbolSize": 80, "labelFontSize": 6, "rowPadding": 0, "labelOffset": 5.5}}
 }}
],
"resolve": {"axis": {"x": "independent", "y": "independent"}}
},
{
"width": 133, "height": 94,
"layer": [
{"data": {"name": "curves"}, "transform": [{"filter": "datum.p=='c'"}],
 "mark": {"type": "line", "strokeWidth": 1.6},
 "encoding": {
  "x": {"field": "t", "type": "quantitative", "scale": {"domain": [0,6], "nice": false, "zero": false}, "axis": {"values": [0,1,2,3,4,5,6], "title": "Time (min)", "titlePadding": 3.5}},
  "y": {"field": "y", "type": "quantitative", "scale": {"domain": [0,104], "nice": false}, "axis": {"values": [0,20,40,60,80,100], "title": "% substrate remaining", "titlePadding": 3}},
  "color": {"field": "s", "type": "nominal", "scale": {"domain": ["MmDTD 100 nM","MmDTD 10 nM","MmDTD 1 nM","Buffer"], "range": ["#A6469A","#F29126","#E2262A","#000000"]}, "legend": null}
 }},
{"data": {"name": "err"}, "transform": [{"filter": "datum.p=='c'"}],
 "mark": {"type": "errorbar", "ticks": {"size": 5}, "thickness": 1},
 "encoding": {
  "x": {"field": "t", "type": "quantitative", "axis": null},
  "y": {"field": "lo", "type": "quantitative", "axis": null},
  "y2": {"field": "hi"},
  "color": {"field": "s", "type": "nominal", "legend": null}
 }},
{"data": {"name": "pts"}, "transform": [{"filter": "datum.p=='c'"}],
 "mark": {"type": "point", "size": 42, "opacity": 1, "strokeWidth": 1},
 "encoding": {
  "x": {"field": "t", "type": "quantitative", "axis": {"orient": "top", "domain": false, "ticks": false, "labels": false, "title": "Gly-(Mm)tRNA\u1d33\u02e1\u02b8", "titleX": 101, "titleY": -3.2, "titleAlign": "center", "titleBaseline": "alphabetic", "titleFont": "Open Sans", "titleFontSize": 10.5, "titleFontWeight": "bold"}},
  "y": {"field": "y", "type": "quantitative", "axis": {"orient": "left", "domain": false, "ticks": false, "labels": false, "title": "c", "titleAngle": 0, "titleX": -47, "titleY": -23.5, "titleAlign": "left", "titleBaseline": "alphabetic", "titleFont": "Open Sans", "titleFontSize": 23, "titleFontWeight": "normal"}},
  "shape": {"field": "s", "type": "nominal", "scale": {"domain": ["Buffer","MmDTD 1 nM","MmDTD 10 nM","MmDTD 100 nM"], "range": ["diamond","square","circle","triangle-down"]}, "legend": {"title": null, "orient": "none", "legendX": 152.8, "legendY": 21.5, "symbolSize": 110, "labelFontSize": 8.5, "rowPadding": 3.7, "labelOffset": 7.4}},
  "stroke": {"field": "s", "type": "nominal", "scale": {"domain": ["Buffer","MmDTD 1 nM","MmDTD 10 nM","MmDTD 100 nM"], "range": ["#000000","#EE2B2B","#F38024","#B45DAA"]}, "legend": {"title": null, "orient": "none", "legendX": 152.8, "legendY": 21.5, "symbolSize": 110, "labelFontSize": 8.5, "rowPadding": 3.7, "labelOffset": 7.4}},
  "fill": {"field": "s", "type": "nominal", "scale": {"domain": ["Buffer","MmDTD 1 nM","MmDTD 10 nM","MmDTD 100 nM"], "range": ["#000000","#EE2B2B","#F38024","#B45DAA"]}, "legend": {"title": null, "orient": "none", "legendX": 152.8, "legendY": 21.5, "symbolSize": 110, "labelFontSize": 8.5, "rowPadding": 3.7, "labelOffset": 7.4}}
 }}
],
"resolve": {"axis": {"x": "independent", "y": "independent"}}
},
{
"width": 133, "height": 94,
"layer": [
{"data": {"name": "curves"}, "transform": [{"filter": "datum.p=='d'"}],
 "mark": {"type": "line", "strokeWidth": 1.6},
 "encoding": {
  "x": {"field": "t", "type": "quantitative", "scale": {"domain": [0,6], "nice": false, "zero": false}, "axis": {"values": [0,1,2,3,4,5,6], "title": "Time (min)", "titlePadding": 3.5}},
  "y": {"field": "y", "type": "quantitative", "scale": {"domain": [0,104], "nice": false}, "axis": {"values": [0,20,40,60,80,100], "title": "% substrate remaining", "titlePadding": 3}},
  "color": {"field": "s", "type": "nominal", "scale": {"domain": ["MmDTD 100 nM","MmDTD 10 nM","MmDTD 1 nM","Buffer"], "range": ["#A6469A","#F29126","#E2262A","#000000"]}, "legend": null}
 }},
{"data": {"name": "err"}, "transform": [{"filter": "datum.p=='d'"}],
 "mark": {"type": "errorbar", "ticks": {"size": 5}, "thickness": 1},
 "encoding": {
  "x": {"field": "t", "type": "quantitative", "axis": null},
  "y": {"field": "lo", "type": "quantitative", "axis": null},
  "y2": {"field": "hi"},
  "color": {"field": "s", "type": "nominal", "legend": null}
 }},
{"data": {"name": "pts"}, "transform": [{"filter": "datum.p=='d'"}],
 "mark": {"type": "point", "size": 42, "opacity": 1, "strokeWidth": 1},
 "encoding": {
  "x": {"field": "t", "type": "quantitative", "axis": {"orient": "top", "domain": false, "ticks": false, "labels": false, "title": "Gly-(Mm)tRNA\u1d2c\u02e1\u1d43", "titleX": 99.8, "titleY": -9.8, "titleAlign": "center", "titleBaseline": "alphabetic", "titleFont": "Open Sans", "titleFontSize": 10.5, "titleFontWeight": "bold"}},
  "y": {"field": "y", "type": "quantitative", "axis": {"orient": "left", "domain": false, "ticks": false, "labels": false, "title": "d", "titleAngle": 0, "titleX": -54, "titleY": -23.5, "titleAlign": "left", "titleBaseline": "alphabetic", "titleFont": "Open Sans", "titleFontSize": 23, "titleFontWeight": "normal"}},
  "shape": {"field": "s", "type": "nominal", "scale": {"domain": ["Buffer","MmDTD 1 nM","MmDTD 10 nM","MmDTD 100 nM"], "range": ["diamond","square","circle","triangle-down"]}, "legend": {"title": null, "orient": "none", "legendX": 151.8, "legendY": 21.5, "symbolSize": 110, "labelFontSize": 8.5, "rowPadding": 3.7, "labelOffset": 6.4}},
  "stroke": {"field": "s", "type": "nominal", "scale": {"domain": ["Buffer","MmDTD 1 nM","MmDTD 10 nM","MmDTD 100 nM"], "range": ["#000000","#EE2B2B","#F38024","#B45DAA"]}, "legend": {"title": null, "orient": "none", "legendX": 151.8, "legendY": 21.5, "symbolSize": 110, "labelFontSize": 8.5, "rowPadding": 3.7, "labelOffset": 6.4}},
  "fill": {"field": "s", "type": "nominal", "scale": {"domain": ["Buffer","MmDTD 1 nM","MmDTD 10 nM","MmDTD 100 nM"], "range": ["#000000","#EE2B2B","#F38024","#B45DAA"]}, "legend": {"title": null, "orient": "none", "legendX": 151.8, "legendY": 21.5, "symbolSize": 110, "labelFontSize": 8.5, "rowPadding": 3.7, "labelOffset": 6.4}}
 }}
],
"resolve": {"axis": {"x": "independent", "y": "independent"}}
},
{
"width": 133, "height": 94,
"layer": [
{"data": {"name": "curves"}, "transform": [{"filter": "datum.p=='e'"}],
 "mark": {"type": "line", "strokeWidth": 1.6},
 "encoding": {
  "x": {"field": "t", "type": "quantitative", "scale": {"domain": [0,6], "nice": false, "zero": false}, "axis": {"values": [0,1,2,3,4,5,6], "title": "Time (min)", "titlePadding": 3.5}},
  "y": {"field": "y", "type": "quantitative", "scale": {"domain": [0,104], "nice": false}, "axis": {"values": [0,20,40,60,80,100], "title": "% substrate remaining", "titlePadding": 3}},
  "color": {"field": "s", "type": "nominal", "scale": {"domain": ["MmDTD 100 nM","MmDTD 10 nM","MmDTD 1 nM","MmDTD 100 pM","Buffer"], "range": ["#A6469A","#F29126","#E2262A","#2E9E4E","#000000"]}, "legend": null}
 }},
{"data": {"name": "err"}, "transform": [{"filter": "datum.p=='e'"}],
 "mark": {"type": "errorbar", "ticks": {"size": 5}, "thickness": 1},
 "encoding": {
  "x": {"field": "t", "type": "quantitative", "axis": null},
  "y": {"field": "lo", "type": "quantitative", "axis": null},
  "y2": {"field": "hi"},
  "color": {"field": "s", "type": "nominal", "legend": null}
 }},
{"data": {"name": "pts"}, "transform": [{"filter": "datum.p=='e'"}],
 "mark": {"type": "point", "size": 42, "opacity": 1, "strokeWidth": 1},
 "encoding": {
  "x": {"field": "t", "type": "quantitative", "axis": {"orient": "top", "domain": false, "ticks": false, "labels": false, "title": ["Gly-tRNA\u1d33\u02e1\u02b8", "wild type"], "titleX": 101.3, "titleY": -16.5, "titleAlign": "center", "titleBaseline": "alphabetic", "titleFont": "Open Sans", "titleFontSize": 10.5, "titleFontWeight": "bold", "titleLineHeight": 13}},
  "y": {"field": "y", "type": "quantitative", "axis": {"orient": "left", "domain": false, "ticks": false, "labels": false, "title": "e", "titleAngle": 0, "titleX": -47.5, "titleY": -26.5, "titleAlign": "left", "titleBaseline": "alphabetic", "titleFont": "Open Sans", "titleFontSize": 23, "titleFontWeight": "normal"}},
  "shape": {"field": "s", "type": "nominal", "scale": {"domain": ["Buffer","MmDTD 100 pM","MmDTD 1 nM","MmDTD 10 nM","MmDTD 100 nM"], "range": ["diamond","triangle-up","square","circle","triangle-down"]}, "legend": {"title": null, "orient": "none", "legendX": 152.3, "legendY": 14, "symbolSize": 110, "labelFontSize": 8.5, "rowPadding": 1.5, "labelOffset": 7.4}},
  "stroke": {"field": "s", "type": "nominal", "scale": {"domain": ["Buffer","MmDTD 100 pM","MmDTD 1 nM","MmDTD 10 nM","MmDTD 100 nM"], "range": ["#000000","#2EA24D","#EE2B2B","#F38024","#B45DAA"]}, "legend": {"title": null, "orient": "none", "legendX": 152.3, "legendY": 14, "symbolSize": 110, "labelFontSize": 8.5, "rowPadding": 1.5, "labelOffset": 7.4}},
  "fill": {"field": "s", "type": "nominal", "scale": {"domain": ["Buffer","MmDTD 100 pM","MmDTD 1 nM","MmDTD 10 nM","MmDTD 100 nM"], "range": ["#000000","#2EA24D","#EE2B2B","#F38024","#B45DAA"]}, "legend": {"title": null, "orient": "none", "legendX": 152.3, "legendY": 14, "symbolSize": 110, "labelFontSize": 8.5, "rowPadding": 1.5, "labelOffset": 7.4}}
 }}
],
"resolve": {"axis": {"x": "independent", "y": "independent"}}
},
{
"width": 133, "height": 94,
"layer": [
{"data": {"name": "curves"}, "transform": [{"filter": "datum.p=='f'"}],
 "mark": {"type": "line", "strokeWidth": 1.6},
 "encoding": {
  "x": {"field": "t", "type": "quantitative", "scale": {"domain": [0,6], "nice": false, "zero": false}, "axis": {"values": [0,1,2,3,4,5,6], "title": "Time (min)", "titlePadding": 3.5}},
  "y": {"field": "y", "type": "quantitative", "scale": {"domain": [0,104], "nice": false}, "axis": {"values": [0,20,40,60,80,100], "title": "% substrate remaining", "titlePadding": 3}},
  "color": {"field": "s", "type": "nominal", "scale": {"domain": ["MmDTD 100 nM","MmDTD 10 nM","MmDTD 1 nM","Buffer"], "range": ["#A6469A","#F29126","#E2262A","#000000"]}, "legend": null}
 }},
{"data": {"name": "err"}, "transform": [{"filter": "datum.p=='f'"}],
 "mark": {"type": "errorbar", "ticks": {"size": 5}, "thickness": 1},
 "encoding": {
  "x": {"field": "t", "type": "quantitative", "axis": null},
  "y": {"field": "lo", "type": "quantitative", "axis": null},
  "y2": {"field": "hi"},
  "color": {"field": "s", "type": "nominal", "legend": null}
 }},
{"data": {"name": "pts"}, "transform": [{"filter": "datum.p=='f'"}],
 "mark": {"type": "point", "size": 42, "opacity": 1, "strokeWidth": 1},
 "encoding": {
  "x": {"field": "t", "type": "quantitative", "axis": {"orient": "top", "domain": false, "ticks": false, "labels": false, "title": "Gly-tRNA\u1d33\u02e1\u02b8(U73A)", "titleX": 64.5, "titleY": -9.8, "titleAlign": "center", "titleBaseline": "alphabetic", "titleFont": "Open Sans", "titleFontSize": 10.5, "titleFontWeight": "bold"}},
  "y": {"field": "y", "type": "quantitative", "axis": {"orient": "left", "domain": false, "ticks": false, "labels": false, "title": "f", "titleAngle": 0, "titleX": -54, "titleY": -26.5, "titleAlign": "left", "titleBaseline": "alphabetic", "titleFont": "Open Sans", "titleFontSize": 23, "titleFontWeight": "normal"}},
  "shape": {"field": "s", "type": "nominal", "scale": {"domain": ["Buffer","MmDTD 1 nM","MmDTD 10 nM","MmDTD 100 nM"], "range": ["diamond","square","circle","triangle-down"]}, "legend": {"title": null, "orient": "none", "legendX": 151.8, "legendY": 21.7, "symbolSize": 110, "labelFontSize": 8.5, "rowPadding": 3.6, "labelOffset": 6.4}},
  "stroke": {"field": "s", "type": "nominal", "scale": {"domain": ["Buffer","MmDTD 1 nM","MmDTD 10 nM","MmDTD 100 nM"], "range": ["#000000","#EE2B2B","#F38024","#B45DAA"]}, "legend": {"title": null, "orient": "none", "legendX": 151.8, "legendY": 21.7, "symbolSize": 110, "labelFontSize": 8.5, "rowPadding": 3.6, "labelOffset": 6.4}},
  "fill": {"field": "s", "type": "nominal", "scale": {"domain": ["Buffer","MmDTD 1 nM","MmDTD 10 nM","MmDTD 100 nM"], "range": ["#000000","#EE2B2B","#F38024","#B45DAA"]}, "legend": {"title": null, "orient": "none", "legendX": 151.8, "legendY": 21.7, "symbolSize": 110, "labelFontSize": 8.5, "rowPadding": 3.6, "labelOffset": 6.4}}
 }}
],
"resolve": {"axis": {"x": "independent", "y": "independent"}}
}
],
"config": {
 "view": {"stroke": null},
 "axis": {"grid": false, "domainColor": "#000000", "domainWidth": 1.4, "tickColor": "#000000", "tickWidth": 1.4, "tickSize": 3, "labelFont": "Liberation Sans", "labelFontSize": 7.5, "labelFontWeight": "bold", "labelColor": "#000000", "labelPadding": 1, "labelFlush": false, "titleFont": "Liberation Sans", "titleFontSize": 8, "titleFontWeight": "bold", "titleColor": "#000000"},
 "legend": {"labelFont": "Liberation Sans", "labelColor": "#000000", "symbolStrokeWidth": 1.4, "padding": 0}
}
}
